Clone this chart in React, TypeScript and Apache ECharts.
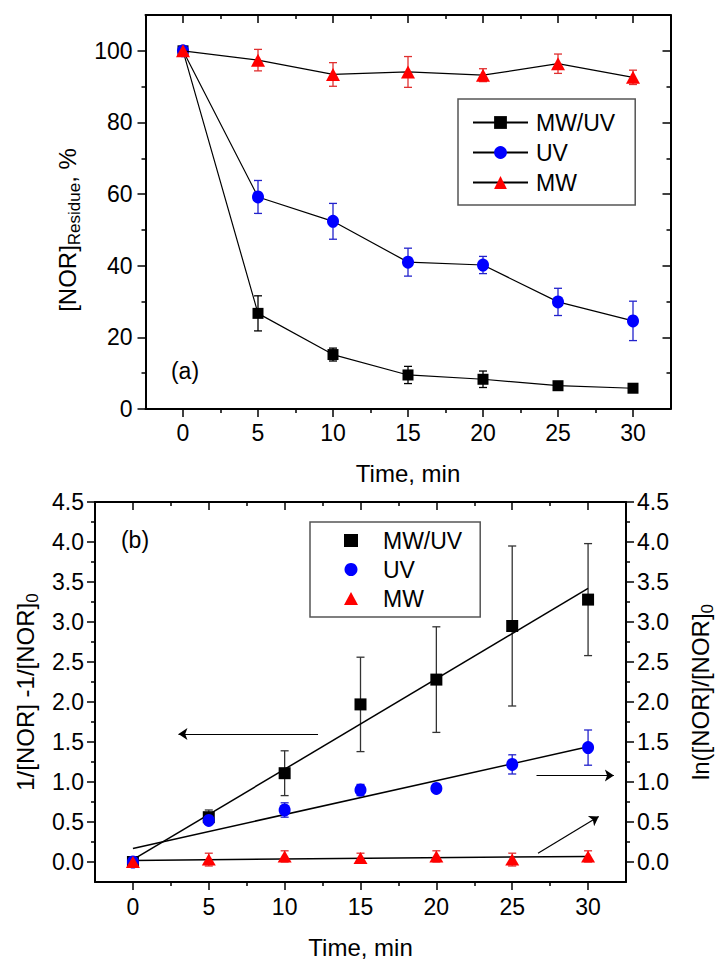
import React, { useEffect, useRef } from 'react';
import * as echarts from 'echarts';

// ---------- data ----------
const times = [0, 5, 10, 15, 20, 25, 30];

// (a) residue, %
const residueMWUV = [100, 26.7, 15.2, 9.5, 8.3, 6.5, 5.8];
const residueMWUVErr = [0, 4.9, 1.8, 2.4, 2.3, 0.6, 0.5];
const residueUV = [100, 59.2, 52.4, 41.0, 40.2, 29.9, 24.6];
const residueUVErr = [0, 4.6, 5.0, 3.9, 2.4, 3.8, 5.5];
const residueMW = [100, 97.4, 93.4, 94.1, 93.2, 96.4, 92.6];
const residueMWErr = [0, 3.0, 3.3, 4.3, 1.8, 2.7, 2.0];

// (b) kinetics
const kinMWUV = [0, 0.56, 1.11, 1.97, 2.28, 2.95, 3.28];
const kinMWUVErr = [0, 0.09, 0.28, 0.59, 0.66, 1.0, 0.7];
const kinUV = [0, 0.52, 0.65, 0.9, 0.92, 1.22, 1.43];
const kinUVErr = [0, 0.05, 0.09, 0.07, 0.02, 0.12, 0.22];
const kinMW = [0, 0.03, 0.07, 0.05, 0.07, 0.03, 0.07];
const kinMWErr = [0, 0.08, 0.07, 0.06, 0.07, 0.08, 0.07];

const fitTimes = [0, 30];
const fitMWUV = [0.03, 3.42];
const fitUV = [0.17, 1.44];
const fitMW = [0.02, 0.07];

const arrowLeft = [[12.2, 1.6], [3.0, 1.6]];
const arrowRight = [[26.6, 1.08], [31.7, 1.08]];
const arrowDiag = [[26.7, 0.11], [30.7, 0.57]];

// ticks
const xMajor = [0, 5, 10, 15, 20, 25, 30];
const xMinor = [2.5, 7.5, 12.5, 17.5, 22.5, 27.5];
const resMajor = [0, 20, 40, 60, 80, 100];
const resMinor = [10, 30, 50, 70, 90];
const kinMajor = [0, 0.5, 1, 1.5, 2, 2.5, 3, 3.5, 4, 4.5];
const kinMinor = [0.25, 0.75, 1.25, 1.75, 2.25, 2.75, 3.25, 3.75, 4.25];

const FONT = "'Liberation Sans', Arial, Helvetica, sans-serif";

function axis(gridIndex: number, min: number, max: number, position: string, o: any) {
  return {
    type: 'value',
    gridIndex,
    min,
    max,
    position,
    splitLine: { show: false },
    axisLine: { show: !!o.line, onZero: false, lineStyle: { color: '#000', width: 2 } },
    axisTick: {
      show: true,
      inside: !!o.inside,
      length: o.len,
      customValues: o.ticks,
      lineStyle: { color: '#000', width: 1.5 },
    },
    axisLabel: o.labels
      ? {
          show: true,
          customValues: o.ticks,
          margin: o.margin,
          fontSize: 23,
          color: '#000',
          fontFamily: FONT,
          formatter: o.fmt,
        }
      : { show: false },
    name: o.name,
    nameLocation: 'middle',
    nameGap: o.nameGap,
    nameRotate: o.nameRotate,
    nameTextStyle: o.nameStyle,
  };
}

function errSeries(name: string, xi: number, yi: number, vals: number[], errs: number[], color: string, cap: number) {
  return {
    type: 'custom',
    name,
    xAxisIndex: xi,
    yAxisIndex: yi,
    z: 2,
    silent: true,
    data: times.map((t, i) => [t, vals[i], errs[i]]),
    encode: { x: 0, y: 1 },
    renderItem: (params: any, api: any) => {
      const x = api.value(0);
      const y = api.value(1);
      const e = api.value(2);
      if (!e) return null;
      const top = api.coord([x, y + e]);
      const bot = api.coord([x, y - e]);
      const st = { stroke: color, lineWidth: 1.3 };
      return {
        type: 'group',
        children: [
          { type: 'line', shape: { x1: top[0], y1: top[1], x2: bot[0], y2: bot[1] }, style: st },
          { type: 'line', shape: { x1: top[0] - cap, y1: top[1], x2: top[0] + cap, y2: top[1] }, style: st },
          { type: 'line', shape: { x1: bot[0] - cap, y1: bot[1], x2: bot[0] + cap, y2: bot[1] }, style: st },
        ],
      };
    },
  };
}

const pts = (xs: number[], ys: number[]) => xs.map((t, i) => [t, ys[i]]);

const nameRich = {
  n: { fontSize: 24, lineHeight: 32, verticalAlign: 'middle', color: '#000', fontFamily: FONT },
  s: { fontSize: 17, lineHeight: 17, verticalAlign: 'bottom', color: '#000', fontFamily: FONT },
};

export default function App() {
  const ref = useRef<HTMLDivElement>(null);
  useEffect(() => {
    if (!ref.current) return;
    const chart = echarts.init(ref.current, undefined, { renderer: 'svg' });
    const option: any = {
      animation: false,
      backgroundColor: '#fff',
      textStyle: { fontFamily: FONT },
      grid: [
        { left: 145.5, top: 15, width: 525, height: 394, containLabel: false },
        { left: 95, top: 502, width: 532, height: 380, containLabel: false },
      ],
      xAxis: [
        axis(0, -2.5, 32.5, 'bottom', {
          line: true, len: 8, ticks: xMajor, labels: true, margin: 12,
          name: 'Time, min', nameGap: 52,
          nameStyle: { fontSize: 24, color: '#000', fontFamily: FONT },
        }),
        axis(0, -2.5, 32.5, 'bottom', { line: false, len: 4, ticks: xMinor }),
        axis(0, -2.5, 32.5, 'top', { line: true, inside: true, len: 8, ticks: xMajor }),
        axis(0, -2.5, 32.5, 'top', { line: false, inside: true, len: 4, ticks: xMinor }),
        axis(1, -2.5, 32.5, 'bottom', {
          line: true, len: 8, ticks: xMajor, labels: true, margin: 13,
          name: 'Time, min', nameGap: 53,
          nameStyle: { fontSize: 24, color: '#000', fontFamily: FONT },
        }),
        axis(1, -2.5, 32.5, 'bottom', { line: false, len: 4, ticks: xMinor }),
        axis(1, -2.5, 32.5, 'top', { line: true, inside: true, len: 8, ticks: xMajor }),
        axis(1, -2.5, 32.5, 'top', { line: false, inside: true, len: 4, ticks: xMinor }),
      ],
      yAxis: [
        axis(0, 0, 110, 'left', {
          line: true, len: 8, ticks: resMajor, labels: true, margin: 13,
          name: '{n|[NOR]}{s|Residue}{n|, %}', nameGap: 58, nameRotate: 90,
          nameStyle: { rich: nameRich, padding: [0, 36, 0, 0] },
        }),
        axis(0, 0, 110, 'left', { line: false, len: 4, ticks: resMinor }),
        axis(0, 0, 110, 'right', { line: true, inside: true, len: 8, ticks: resMajor }),
        axis(0, 0, 110, 'right', { line: false, inside: true, len: 4, ticks: resMinor }),
        axis(1, -0.25, 4.5, 'left', {
          line: true, len: 8, ticks: kinMajor, labels: true, margin: 11,
          fmt: (v: number) => v.toFixed(1),
          name: '{n|1/[NOR] -1/[NOR]}{s|0}', nameGap: 52, nameRotate: 90,
          nameStyle: { rich: nameRich },
        }),
        axis(1, -0.25, 4.5, 'left', { line: false, len: 4, ticks: kinMinor }),
        axis(1, -0.25, 4.5, 'right', {
          line: true, len: 8, ticks: kinMajor, labels: true, margin: 11,
          fmt: (v: number) => v.toFixed(1),
          name: '{n|ln([NOR]/[NOR]}{s|0}', nameGap: 58, nameRotate: 90,
          nameStyle: { rich: nameRich },
        }),
        axis(1, -0.25, 4.5, 'right', { line: false, len: 4, ticks: kinMinor }),
      ],
      legend: [
        {
          orient: 'vertical',
          left: 458,
          top: 99,
          padding: [12, 20, 11, 14],
          itemWidth: 55,
          itemHeight: 16,
          itemGap: 7,
          backgroundColor: '#fff',
          borderColor: '#555',
          borderWidth: 1.5,
          selectedMode: false,
          textStyle: { fontSize: 23, lineHeight: 23, color: '#000', fontFamily: FONT, padding: [0, 0, 0, 3] },
          data: ['MW/UV', 'UV', 'MW'],
        },
        {
          orient: 'vertical',
          left: 310,
          top: 522,
          padding: [7, 18, 7, 34],
          itemWidth: 14,
          itemHeight: 13,
          itemGap: 6,
          backgroundColor: '#fff',
          borderColor: '#555',
          borderWidth: 1.5,
          selectedMode: false,
          textStyle: { fontSize: 23, lineHeight: 23, color: '#000', fontFamily: FONT, padding: [0, 0, 0, 20] },
          data: [
            { name: 'MW/UV', icon: 'rect', itemStyle: { color: '#000', opacity: 1 } },
            { name: 'UV', icon: 'circle', itemStyle: { color: '#0000ff', opacity: 1 } },
            { name: 'MW', icon: 'triangle', itemStyle: { color: '#ff0000', opacity: 1 } },
          ],
        },
      ],
      graphic: [
        { type: 'text', x: 185, y: 371, style: { text: '(a)', align: 'center', verticalAlign: 'middle', fontSize: 23, fontFamily: FONT, fill: '#000' } },
        { type: 'text', x: 135, y: 540, style: { text: '(b)', align: 'center', verticalAlign: 'middle', fontSize: 23, fontFamily: FONT, fill: '#000' } },
      ],
      series: [
        // ---- (a) ----
        errSeries('errA1', 0, 0, residueMWUV, residueMWUVErr, '#000', 4),
        errSeries('errA2', 0, 0, residueUV, residueUVErr, '#2222cc', 4),
        errSeries('errA3', 0, 0, residueMW, residueMWErr, '#e03030', 4),
        {
          type: 'line', name: 'MW/UV', xAxisIndex: 0, yAxisIndex: 0, z: 3,
          data: pts(times, residueMWUV), symbol: 'rect', symbolSize: 11,
          itemStyle: { color: '#000' }, lineStyle: { color: '#000', width: 1.2 },
        },
        {
          type: 'line', name: 'UV', xAxisIndex: 0, yAxisIndex: 0, z: 4,
          data: pts(times, residueUV), symbol: 'circle', symbolSize: [12, 13],
          itemStyle: { color: '#0000ff' }, lineStyle: { color: '#000', width: 1.2 },
        },
        {
          type: 'line', name: 'MW', xAxisIndex: 0, yAxisIndex: 0, z: 5,
          data: pts(times, residueMW), symbol: 'triangle', symbolSize: [14, 13],
          itemStyle: { color: '#ff0000' }, lineStyle: { color: '#000', width: 1.2 },
        },
        // ---- (b) ----
        errSeries('errB1', 4, 4, kinMWUV, kinMWUVErr, '#333', 4),
        errSeries('errB2', 4, 4, kinUV, kinUVErr, '#2222cc', 4),
        errSeries('errB3', 4, 4, kinMW, kinMWErr, '#e03030', 4),
        {
          type: 'line', name: 'fitMWUV', xAxisIndex: 4, yAxisIndex: 4, z: 3, symbol: 'none',
          data: pts(fitTimes, fitMWUV), lineStyle: { color: '#000', width: 1.5 },
        },
        {
          type: 'line', name: 'fitUV', xAxisIndex: 4, yAxisIndex: 4, z: 3, symbol: 'none',
          data: pts(fitTimes, fitUV), lineStyle: { color: '#000', width: 1.5 },
        },
        {
          type: 'line', name: 'fitMW', xAxisIndex: 4, yAxisIndex: 4, z: 3, symbol: 'none',
          data: pts(fitTimes, fitMW), lineStyle: { color: '#000', width: 1.5 },
        },
        {
          type: 'scatter', name: 'MW/UV', xAxisIndex: 4, yAxisIndex: 4, z: 4,
          data: pts(times, kinMWUV), symbol: 'rect', symbolSize: 12, itemStyle: { color: '#000', opacity: 1 },
        },
        {
          type: 'scatter', name: 'UV', xAxisIndex: 4, yAxisIndex: 4, z: 5,
          data: pts(times, kinUV), symbol: 'circle', symbolSize: [12, 13], itemStyle: { color: '#0000ff', opacity: 1 },
        },
        {
          type: 'scatter', name: 'MW', xAxisIndex: 4, yAxisIndex: 4, z: 6,
          data: pts(times, kinMW), symbol: 'triangle', symbolSize: [14, 12], itemStyle: { color: '#ff0000', opacity: 1 },
        },
        {
          type: 'lines', name: 'arrows', coordinateSystem: 'cartesian2d', xAxisIndex: 4, yAxisIndex: 4,
          z: 3, silent: true, symbol: ['none', 'arrow'], symbolSize: 9,
          lineStyle: { color: '#000', width: 1.2, opacity: 1, curveness: 0 },
          data: [{ coords: arrowLeft }, { coords: arrowRight }, { coords: arrowDiag }],
        },
      ],
    };
    chart.setOption(option);
    return () => chart.dispose();
  }, []);
  return <div ref={ref} style={{ position: 'absolute', left: 0, top: 0, width: 724, height: 968 }} />;
}
